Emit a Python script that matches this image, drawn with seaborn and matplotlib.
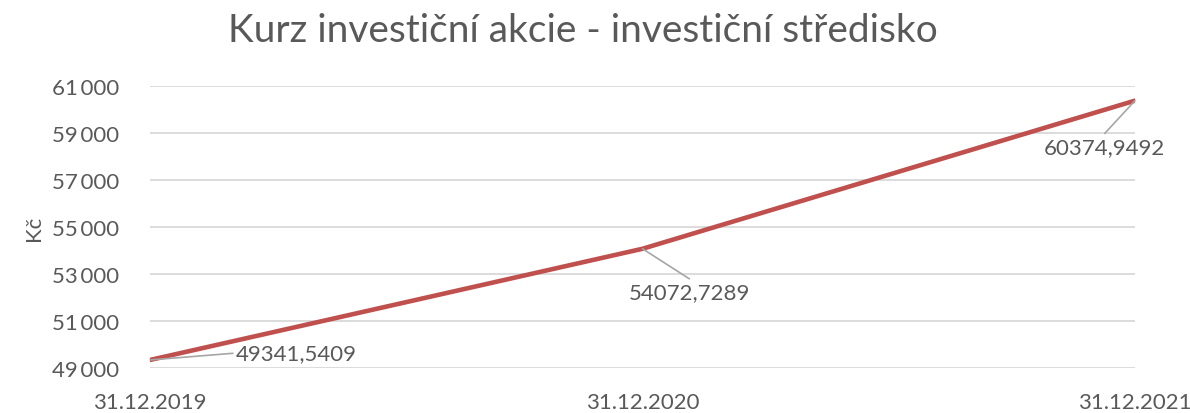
"""Kurz investiční akcie - line chart recreation."""
import matplotlib
matplotlib.use("Agg")
import matplotlib.pyplot as plt
import matplotlib.ticker as mticker
import pandas as pd
import seaborn as sns

DATES = ["31.12.2019", "31.12.2020", "31.12.2021"]
PRICES = [49341.5409, 54072.7289, 60374.9492]
LABELS = ["49341,5409", "54072,7289", "60374,9492"]
Y_TICKS = [49000, 51000, 53000, 55000, 57000, 59000, 61000]

TEXT = "#595959"
LINE = "#C0504D"

sns.set_theme(style="white")
plt.rcParams["font.family"] = ["Lato", "DejaVu Sans"]

df = pd.DataFrame({"datum": DATES, "kurz": PRICES})

fig = plt.figure(figsize=(11.9, 4.14), dpi=100)
ax = fig.add_axes([0.1261, 0.1087, 0.8277, 0.6813])

sns.lineplot(data=df, x="datum", y="kurz", ax=ax, color=LINE, linewidth=3.3,
             solid_capstyle="round", zorder=3)

ax.set_xlim(0, len(DATES) - 1)
ax.set_ylim(Y_TICKS[0], Y_TICKS[-1])
ax.set_yticks(Y_TICKS)
ax.yaxis.set_major_formatter(mticker.FuncFormatter(lambda v, _: f"{int(v):,}".replace(",", "\u2009")))
ax.grid(axis="y", color="#D9D9D9", linewidth=1.3)
ax.set_axisbelow(True)
for s in ax.spines.values():
    s.set_visible(False)

ax.tick_params(axis="y", length=0, pad=22, labelsize=16, labelcolor=TEXT)
ax.tick_params(axis="x", length=0, pad=17, labelsize=16, labelcolor=TEXT)
ax.set_xlabel("")
ax.set_ylabel("Kč", fontsize=16, color=TEXT, labelpad=6)

offsets = [(62, 5), (34, -24), (-22, -26)]
aligns = ["left", "center", "center"]
for i, (lab, off, ha) in enumerate(zip(LABELS, offsets, aligns)):
    ax.annotate(lab, xy=(i, PRICES[i]), xytext=off, textcoords="offset points",
                ha=ha, va="center" if i == 0 else "top", fontsize=16, color=TEXT,
                arrowprops=dict(arrowstyle="-", color="#A6A6A6", lw=1.2,
                                shrinkA=0, shrinkB=0, relpos=(0, 0.5) if i == 0 else (0.5, 1.15)))

fig.text(0.49, 0.925, "Kurz investiční akcie - investiční středisko",
         ha="center", va="center", fontsize=28, color=TEXT)

fig.savefig("out.png", dpi=100)
